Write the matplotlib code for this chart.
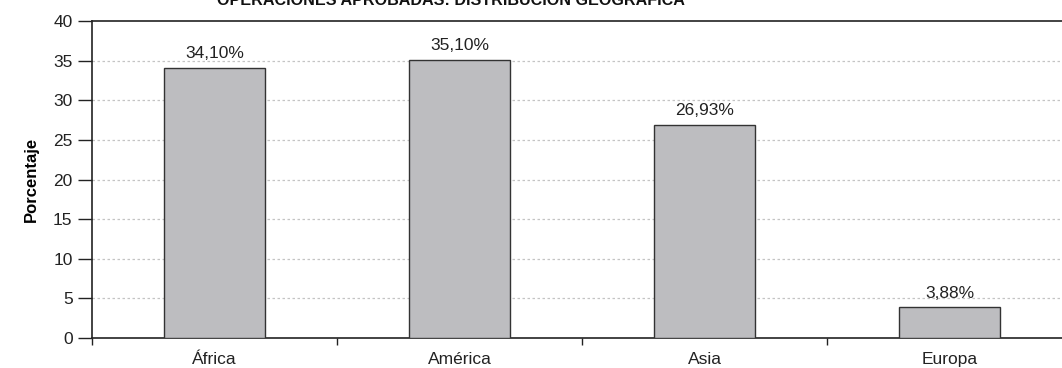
import matplotlib

matplotlib.use("Agg")
import matplotlib.pyplot as plt
import numpy as np

plt.rcParams["font.family"] = ["Liberation Sans", "DejaVu Sans"]

regiones = ["África", "América", "Asia", "Europa"]
porcentajes = [34.10, 35.10, 26.93, 3.88]
etiquetas = ["34,10%", "35,10%", "26,93%", "3,88%"]
yticks = [0, 5, 10, 15, 20, 25, 30, 35, 40]

fig = plt.figure(figsize=(10.62, 3.68), dpi=100)
# plot area runs a little past the right edge of the picture
ax = fig.add_axes([92 / 1062, 1 - 338 / 368, 980 / 1062, (338 - 21) / 368])

x = np.arange(len(regiones))
ax.bar(x, porcentajes, width=0.41, color="#bdbdc0", edgecolor="#333333",
       linewidth=1.0, zorder=3)
for xi, v, lab in zip(x, porcentajes, etiquetas):
    ax.text(xi, v + 0.8, lab, ha="center", va="bottom", fontsize=12.5,
            color="#222222")

ax.set_xlim(-0.5, len(regiones) - 0.5)
ax.set_ylim(0, 40)
ax.set_yticks(yticks)
ax.set_xticks(x)
ax.set_xticklabels(regiones, fontsize=12.5, color="#222222")
ax.set_xticks(np.arange(-0.5, len(regiones) - 0.4, 1.0), minor=True)
ax.tick_params(axis="x", which="major", length=0, pad=10)
ax.tick_params(axis="x", which="minor", length=5, width=1, color="#222222",
               direction="out")
ax.tick_params(axis="y", length=10, width=1, color="#222222", direction="out",
               labelsize=12.5, labelcolor="#222222", pad=4)

# dotted reference lines
for yv in yticks[1:-1]:
    ax.axhline(yv, color="#c4c4c4", lw=0.9, ls=(0, (2, 2)), zorder=1)

for s in ["left", "bottom", "top"]:
    ax.spines[s].set_color("#222222")
    ax.spines[s].set_linewidth(1.2)
ax.spines["right"].set_visible(False)

ax.set_ylabel("Porcentaje", fontsize=12, fontweight="bold", labelpad=10)

fig.text(451 / 1062, 1 - 5 / 368, "OPERACIONES APROBADAS: DISTRIBUCIÓN GEOGRÁFICA",
         ha="center", va="baseline", fontsize=11.6, fontweight="bold",
         color="#111111")

fig.savefig("out.png", dpi=100)
